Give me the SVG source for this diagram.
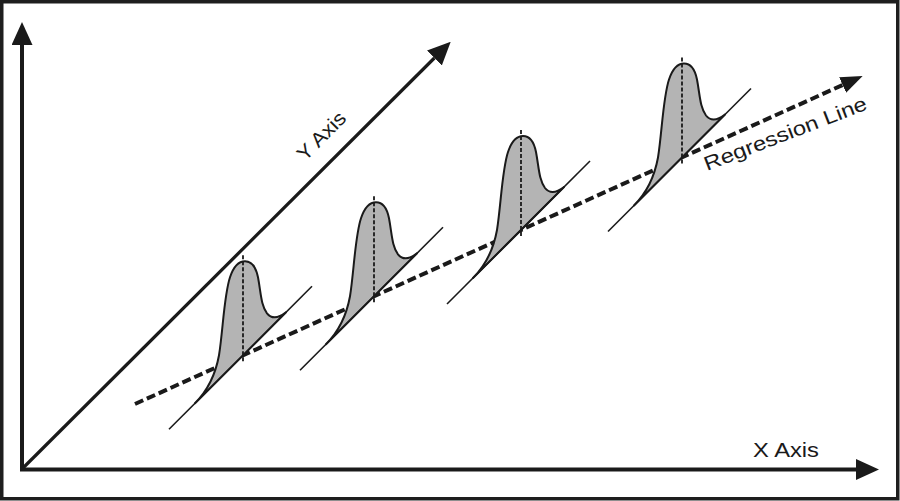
<svg xmlns="http://www.w3.org/2000/svg" xmlns:xlink="http://www.w3.org/1999/xlink" width="900" height="501" viewBox="0 0 900 501">
  <style>
    .frame { fill: #ffffff; stroke: #1e1e1e; stroke-width: 3.5; }
    .axis { fill: none; stroke: #1a1a1a; stroke-width: 4; stroke-linejoin: miter; }
    .diag { fill: none; stroke: #1a1a1a; stroke-width: 3.2; }
    .reg { fill: none; stroke: #1a1a1a; stroke-width: 4; stroke-dasharray: 9 4; }
    .bell { fill: #b4b4b4; stroke: #1a1a1a; stroke-width: 2; stroke-linejoin: round; }
    .base { stroke: #1a1a1a; stroke-width: 1.6; }
    .mean { stroke: #1a1a1a; stroke-width: 1.8; stroke-dasharray: 4 2; }
    .label { font-family: "Liberation Sans", Arial, sans-serif; font-size: 20px; fill: #1a1a1a; }
  </style>
  <defs>
    <marker id="arrow" markerUnits="userSpaceOnUse" markerWidth="23" markerHeight="21" viewBox="0 0 23 21" refX="0" refY="10.5" orient="auto-start-reverse">
      <path d="M0,0 L23,10.5 L0,21 Z" fill="#1a1a1a"/>
    </marker>
    <marker id="arrowSm" markerUnits="userSpaceOnUse" markerWidth="22" markerHeight="17" viewBox="0 0 22 17" refX="0" refY="8.5" orient="auto">
      <path d="M0,0 L22,8.5 L0,17 Z" fill="#1a1a1a"/>
    </marker>
    <path id="bellShape" d="M -48 48 C -36 36, -28 22, -24 0 C -20 -25, -19 -60, -13 -78 C -9 -90, -3 -94, 2 -94 C 9 -94, 13 -88, 15 -78 C 18 -62, 18 -50, 24 -42 C 28 -37, 34 -36, 43 -43 Z"/>
  </defs>

  <rect id="frame" class="frame" x="1.75" y="1.75" width="896" height="497"/>

  <g id="connectors">
    <polyline id="axes" class="axis" points="22,45 22,469.5 856,469.5" marker-start="url(#arrow)" marker-end="url(#arrow)"/>
    <line id="y-axis-diag" class="diag" x1="23" y1="468" x2="434.4" y2="58" marker-end="url(#arrow)"/>
    <line id="regression" class="reg" x1="135" y1="404" x2="842.6" y2="85" marker-end="url(#arrowSm)"/>
  </g>

  <g id="dist1" transform="translate(243,355.3)">
    <use xlink:href="#bellShape" class="bell"/>
    <line class="base" x1="-74" y1="74" x2="69" y2="-69"/>
    <line class="mean" x1="0" y1="-100" x2="0" y2="8"/>
  </g>
  <g id="dist2" transform="translate(374,296.3)">
    <use xlink:href="#bellShape" class="bell"/>
    <line class="base" x1="-74" y1="74" x2="69" y2="-69"/>
    <line class="mean" x1="0" y1="-100" x2="0" y2="8"/>
  </g>
  <g id="dist3" transform="translate(521,230)">
    <use xlink:href="#bellShape" class="bell"/>
    <line class="base" x1="-74" y1="74" x2="69" y2="-69"/>
    <line class="mean" x1="0" y1="-100" x2="0" y2="8"/>
  </g>
  <g id="dist4" transform="translate(682,157.5)">
    <use xlink:href="#bellShape" class="bell"/>
    <line class="base" x1="-74" y1="74" x2="69" y2="-69"/>
    <line class="mean" x1="0" y1="-100" x2="0" y2="8"/>
  </g>

  <g id="label-y">
    <text class="label" font-size="20" transform="translate(305,162) rotate(-45)" textLength="60" lengthAdjust="spacingAndGlyphs">Y Axis</text>
  </g>
  <g id="label-x">
    <text class="label" x="753" y="457" textLength="66" lengthAdjust="spacingAndGlyphs">X Axis</text>
  </g>
  <g id="label-reg">
    <text class="label" font-size="21" transform="translate(707,171) rotate(-21)" textLength="173" lengthAdjust="spacingAndGlyphs">Regression Line</text>
  </g>
</svg>
